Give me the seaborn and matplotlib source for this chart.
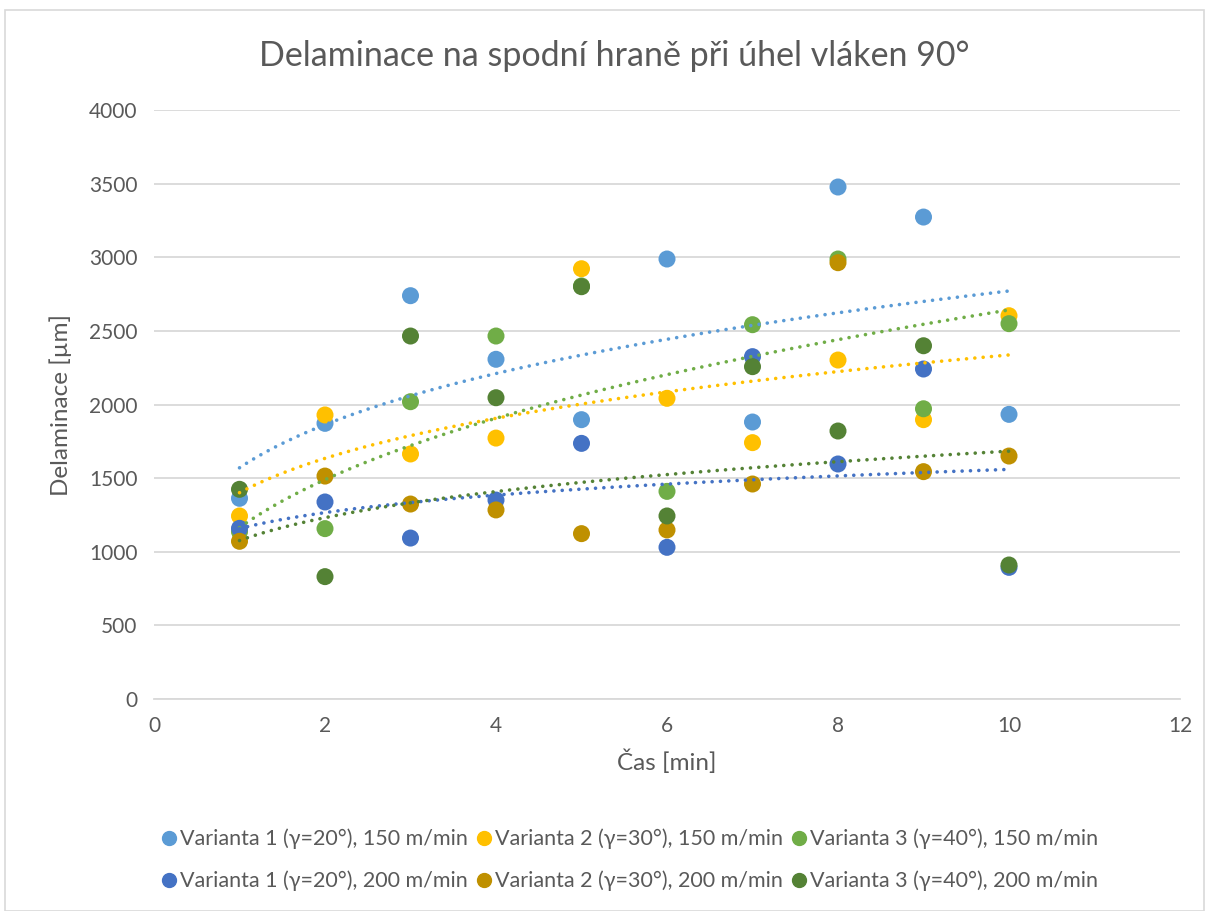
import numpy as np
import pandas as pd
import matplotlib
matplotlib.use("Agg")
import matplotlib.pyplot as plt
import seaborn as sns

cas = [1, 2, 3, 4, 5, 6, 7, 8, 9, 10]
v1_150 = [1363, 1872, 2739, 2307, 1897, 2988, 1881, 3477, 3273, 1933]
v2_150 = [1243, 1929, 1664, 1772, 2922, 2042, 1741, 2302, 1897, 2603]
v3_150 = [1136, 1157, 2019, 2465, 2805, 1410, 2542, 2988, 1971, 2549]
v1_200 = [1159, 1338, 1093, 1351, 1736, 1030, 2325, 1596, 2241, 894]
v2_200 = [1071, 1514, 1324, 1284, 1123, 1148, 1460, 2963, 1544, 1650]
v3_200 = [1424, 831, 2465, 2046, 2800, 1243, 2257, 1820, 2399, 910]

names = [
    "Varianta 1 (γ=20°), 150 m/min",
    "Varianta 2 (γ=30°), 150 m/min",
    "Varianta 3 (γ=40°), 150 m/min",
    "Varianta 1 (γ=20°), 200 m/min",
    "Varianta 2 (γ=30°), 200 m/min",
    "Varianta 3 (γ=40°), 200 m/min",
]
series = [v1_150, v2_150, v3_150, v1_200, v2_200, v3_200]
colors = ["#5B9BD5", "#FFC000", "#70AD47", "#4472C4", "#BF9000", "#548235"]
# power trendlines as shown in the reference (series index -> line colour)
trend_series = [0, 1, 2, 3, 4]
trend_colors = ["#5B9BD5", "#FFC000", "#70AD47", "#4472C4", "#548235"]

sns.set_theme(style="white")
plt.rcParams["font.family"] = ["Lato", "DejaVu Sans"]
txt = "#595959"

rows = []
for n, s in zip(names, series):
    for x, y in zip(cas, s):
        rows.append({"Čas": x, "Delaminace": y, "Série": n})
df = pd.DataFrame(rows)

fig = plt.figure(figsize=(12.09, 9.11), dpi=100)
ax = fig.add_axes([154 / 1209, 1 - 699 / 911, (1180 - 154) / 1209, (699 - 110) / 911])

# power trendlines (y = a * x^b)
xx = np.linspace(1, 10, 100)
trend_rows = []
for i in trend_series:
    s = series[i]
    b, ln_a = np.polyfit(np.log(cas), np.log(s), 1)
    for x in xx:
        trend_rows.append({"Čas": x, "Delaminace": np.exp(ln_a) * x ** b, "Série": names[i]})
tdf = pd.DataFrame(trend_rows)

sns.scatterplot(data=df, x="Čas", y="Delaminace", hue="Série", hue_order=names,
                palette=colors, s=150, edgecolor="none", ax=ax, legend=False, zorder=3)
for i, c in zip(trend_series, trend_colors):
    sub = tdf[tdf["Série"] == names[i]]
    sns.lineplot(data=sub, x="Čas", y="Delaminace", color=c, lw=2.6, ax=ax,
                 linestyle=(0, (0.01, 2.3)), dash_capstyle="round", zorder=4, legend=False)

ax.set_xlim(0, 12)
ax.set_ylim(0, 4000)
ax.set_xticks(range(0, 13, 2))
ax.set_yticks(range(0, 4001, 500))
ax.yaxis.grid(True, color="#D9D9D9", lw=1.3)
ax.xaxis.grid(False)
for sp in ["top", "right", "left"]:
    ax.spines[sp].set_visible(False)
ax.spines["bottom"].set_color("#D9D9D9")
ax.spines["bottom"].set_linewidth(1.3)
ax.tick_params(axis="both", length=0, labelsize=15, labelcolor=txt, pad=12)
ax.set_xlabel("Čas [min]", fontsize=17.5, color=txt, labelpad=10)
ax.set_ylabel("Delaminace [µm]", fontsize=17.5, color=txt, labelpad=12)
fig.text(614 / 1209, 1 - 56 / 911, "Delaminace na spodní hraně při úhel vláken 90°",
         ha="center", va="center", fontsize=24.5, color=txt)

handles = []
order = [0, 3, 1, 4, 2, 5]
for i in order:
    h = plt.Line2D([], [], marker="o", ls="none", color=colors[i], markersize=10)
    handles.append(h)
fig.legend(handles, [names[i] for i in order], ncol=3, loc="center",
           bbox_to_anchor=(0.52, 1 - 860 / 911), frameon=False, fontsize=15.5,
           labelcolor=txt, handletextpad=0.05, columnspacing=0.3, handlelength=0.9,
           labelspacing=1.0)

fig.patches.append(plt.Rectangle((5 / 1209, 0), 1 - 10 / 1209, 1 - 10 / 911,
                                 transform=fig.transFigure, fill=False,
                                 edgecolor="#D9D9D9", lw=1.2))

fig.savefig("out.png", dpi=100)
